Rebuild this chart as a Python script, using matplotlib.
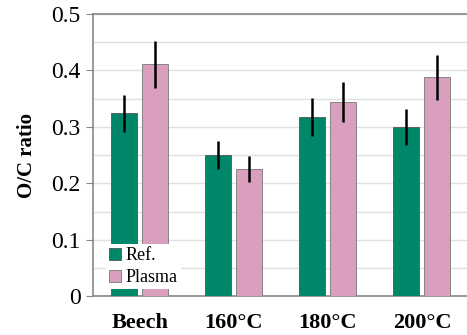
import numpy as np
import matplotlib.pyplot as plt

categories = ["Beech", "160°C", "180°C", "200°C"]
ref_vals = [0.324, 0.250, 0.317, 0.300]
ref_err = [0.033, 0.025, 0.034, 0.032]
plasma_vals = [0.411, 0.226, 0.344, 0.388]
plasma_err = [0.042, 0.023, 0.036, 0.040]

plt.rcParams['font.family'] = ['Liberation Serif', 'DejaVu Serif']

fig = plt.figure(figsize=(4.67, 3.35), dpi=100)
ax = fig.add_axes([0.199, 0.116, 0.805, 0.842])

x = np.arange(len(categories))
w = 0.277
off = 0.165
green = "#00876A"
pink = "#DA9EBF"

ax.bar(x - off, ref_vals, w, color=green, edgecolor="#555555", linewidth=0.6,
       yerr=ref_err, error_kw=dict(ecolor="black", elinewidth=1.8, capsize=0),
       label="Ref.", zorder=3)
ax.bar(x + off, plasma_vals, w, color=pink, edgecolor="#777777", linewidth=0.6,
       yerr=plasma_err, error_kw=dict(ecolor="black", elinewidth=1.8, capsize=0),
       label="Plasma", zorder=3)

ax.set_xlim(-0.5, 3.5)
ax.set_ylim(0, 0.5)
ax.set_yticks(np.arange(0, 0.51, 0.1))
ax.set_yticklabels(["0", "0.1", "0.2", "0.3", "0.4", "0.5"])
ax.set_yticks(np.arange(0, 0.51, 0.05), minor=True)
ax.tick_params(axis='y', which='minor', length=0)
ax.tick_params(axis='y', which='major', length=5, color="#888888", labelsize=17, pad=4)
ax.set_xticks(x)
ax.set_xticklabels(categories, fontweight="bold", fontsize=16)
ax.tick_params(axis='x', length=0, pad=12)
ax.grid(axis='y', which='both', color="#e0e0e0", linewidth=1.0, zorder=0)
ax.set_axisbelow(True)

for s in ["left", "bottom", "top"]:
    ax.spines[s].set_color("#888888")
    ax.spines[s].set_linewidth(1.2)
ax.spines["right"].set_visible(False)

ax.set_ylabel("O/C ratio", fontweight="bold", fontsize=15, labelpad=10)

leg = ax.legend(loc="lower left", bbox_to_anchor=(0.035, 0.025), frameon=True,
                fontsize=13, handlelength=0.65, handleheight=0.65,
                handletextpad=0.3, labelspacing=0.3, borderpad=0.15,
                borderaxespad=0)
leg.get_frame().set_edgecolor("none")
leg.get_frame().set_facecolor("white")
leg.get_frame().set_alpha(1)
leg.get_frame().set_boxstyle("square", pad=0)
leg.set_zorder(5)

fig.savefig("out.png", dpi=100)
